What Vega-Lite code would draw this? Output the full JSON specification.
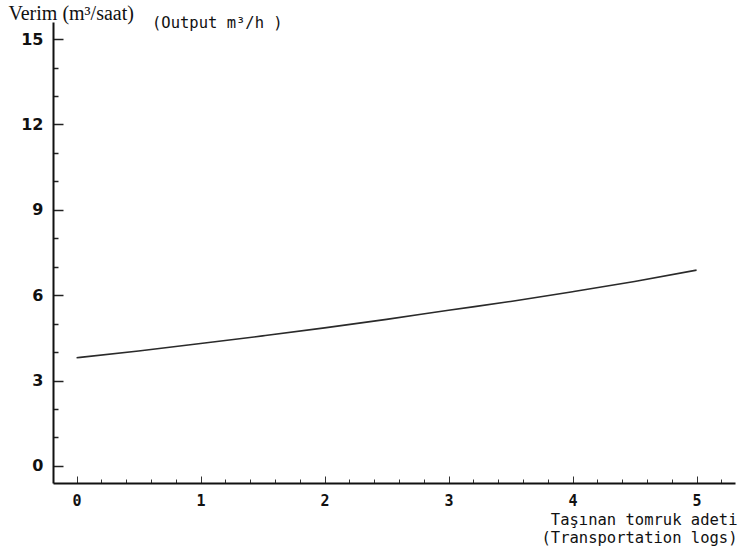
{
  "$schema": "https://vega.github.io/schema/vega-lite/v6.json",
  "width": 682,
  "height": 461,
  "autosize": "none",
  "padding": {"left": 53, "top": 22, "right": 5, "bottom": 76},
  "background": "white",
  "config": {"view": {"stroke": null}},
  "title": {
    "text": "(Output  m³/h )",
    "anchor": "start",
    "frame": "group",
    "font": "DejaVu Sans Mono",
    "fontSize": 15.5,
    "fontWeight": "normal",
    "color": "#111",
    "baseline": "alphabetic",
    "offset": 0,
    "dx": 99,
    "dy": 40
  },
  "data": {
    "values": [
      {"logs": 0, "output": 3.8},
      {"logs": 0.5, "output": 4.04},
      {"logs": 1, "output": 4.3},
      {"logs": 1.5, "output": 4.57},
      {"logs": 2, "output": 4.85},
      {"logs": 2.5, "output": 5.15},
      {"logs": 3, "output": 5.47},
      {"logs": 3.5, "output": 5.78},
      {"logs": 4, "output": 6.12},
      {"logs": 4.5, "output": 6.48},
      {"logs": 5, "output": 6.88}
    ]
  },
  "mark": {"type": "line", "interpolate": "monotone", "color": "#2a2a2a", "strokeWidth": 1.6},
  "encoding": {
    "x": {
      "field": "logs",
      "type": "quantitative",
      "scale": {"domain": [-0.19, 5.31], "nice": false, "zero": false},
      "axis": {
        "values": [0, 0.2, 0.4, 0.6, 0.8, 1, 1.2, 1.4, 1.6, 1.8, 2, 2.2, 2.4, 2.6, 2.8, 3, 3.2, 3.4, 3.6, 3.8, 4, 4.2, 4.4, 4.6, 4.8, 5, 5.2],
        "labelExpr": "abs(datum.value - round(datum.value)) < 0.001 ? format(datum.value, 'd') : ''",
        "labelOverlap": false,
        "labelFlush": false,
        "labelFont": "DejaVu Sans Mono",
        "labelFontSize": 15,
        "labelFontWeight": "bold",
        "labelColor": "#111",
        "labelPadding": 17,
        "tickSize": {"condition": {"test": "abs(datum.value - round(datum.value)) < 0.001", "value": -7}, "value": -4},
        "tickColor": "#333",
        "tickWidth": 1,
        "domainColor": "#111",
        "domainWidth": 2,
        "grid": false,
        "title": ["Taşınan tomruk adeti", "(Transportation logs)"],
        "titleFont": "DejaVu Sans Mono",
        "titleFontSize": 15.5,
        "titleFontWeight": "normal",
        "titleColor": "#111",
        "titleAlign": "right",
        "titleAnchor": "end",
        "titleAngle": 0,
        "titleX": 684,
        "titleY": 41,
        "titleBaseline": "alphabetic",
        "titleLineHeight": 18
      }
    },
    "y": {
      "field": "output",
      "type": "quantitative",
      "scale": {"domain": [-0.6, 15.6], "nice": false, "zero": false},
      "axis": {
        "values": [0, 1, 2, 3, 4, 5, 6, 7, 8, 9, 10, 11, 12, 13, 14, 15],
        "labelExpr": "datum.value % 3 === 0 ? datum.value : ''",
        "labelOverlap": false,
        "labelFlush": false,
        "labelFont": "DejaVu Sans",
        "labelFontWeight": "bold",
        "labelFontSize": 16,
        "labelColor": "#111",
        "labelPadding": 20,
        "tickSize": {"condition": {"test": "datum.value % 3 === 0", "value": -10}, "value": -5},
        "tickColor": "#222",
        "tickWidth": 1.5,
        "domainColor": "#111",
        "domainWidth": 2,
        "grid": false,
        "title": "Verim (m³/saat)",
        "titleFont": "Liberation Serif",
        "titleFontSize": 20,
        "titleFontWeight": "normal",
        "titleColor": "#111",
        "titleAngle": 0,
        "titleAlign": "left",
        "titleBaseline": "alphabetic",
        "titleX": -45,
        "titleY": -3
      }
    }
  }
}
